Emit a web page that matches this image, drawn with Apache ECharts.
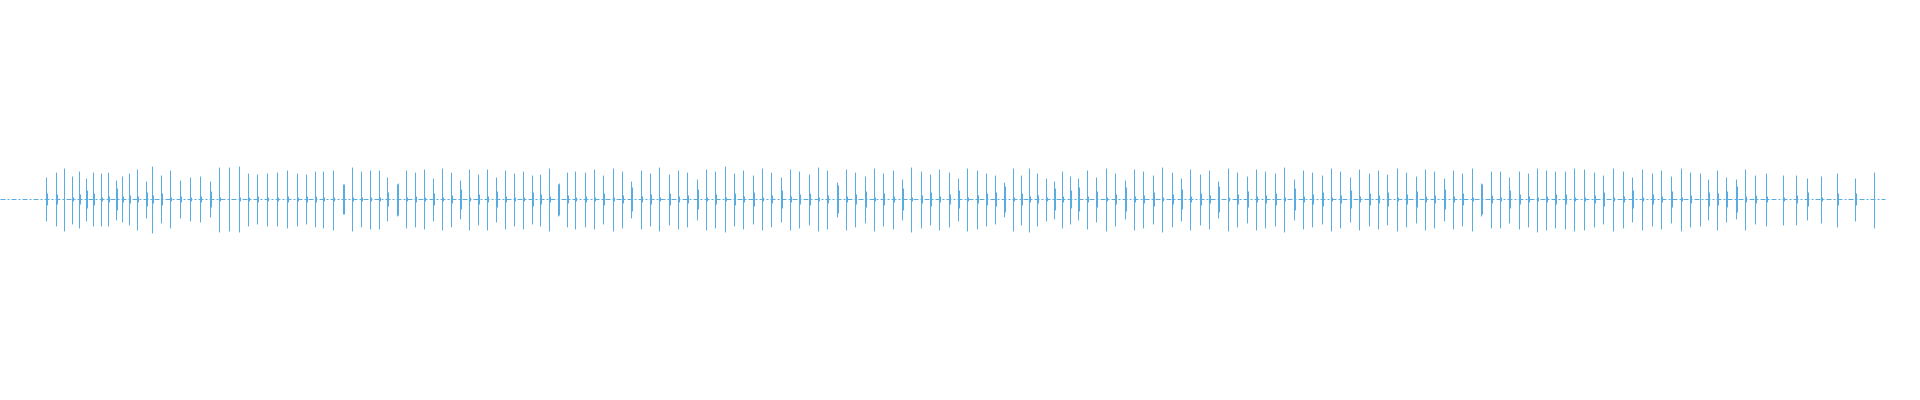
<!DOCTYPE html>
<html><head><meta charset="utf-8">
<script src="https://cdn.jsdelivr.net/npm/echarts@6/dist/echarts.min.js"></script>
<style>html,body{margin:0;padding:0;background:#fff}#c{width:1920px;height:400px}</style>
</head><body><div id="c"></div>
<script>
// Time of each pulse (sample index), upward / downward peak amplitude, and small central burst
const spikeTime = [
46,56,64,72,79,86,93,101,108,116,122,129,137,146,152,161,170,180,190,200,210,219,229,239,248,257,267,277,287,297,306,315,323,333,343,352,361,370,379,387,397,
406,415,424,433,442,451,460,469,478,487,496,
505,514,523,532,540,549,558,567,575,
585,594,603,613,622,631,641,650,659,669,678,687,697,706,715,725,734,743,753,762,771,781,790,799,809,818,827,837,846,855,865,874,883,893,902,911,921,930,939,949,958,967,977,986,995,
1004,1013,1021,1029,1037,1046,1054,1062,1070,1078,
1087,1096,1106,1115,1125,1134,1143,1153,1162,1172,1181,1190,1200,1209,1218,1228,1237,1247,1256,1265,1275,1284,1294,1303,1312,1322,1331,1340,1350,1359,1369,1378,1387,1397,1406,1416,1425,1434,1444,1453,1462,1472,1481,1491,
1500,1509,1519,1528,1537,1546,1555,1565,1574,
1584,1594,1603,1613,1623,1632,1642,1652,1661,1671,1681,1690,
1700,1708,1717,1726,1736,1745,1755,1766,1783,1796,1807,1821,1837,1855,1874
];
const spikeUp = [
.22,.27,.31,.23,.28,.21,.27,.26,.27,.19,.23,.26,.30,.18,.33,.24,.29,.19,.22,.23,.18,.32,.32,.33,.26,.25,.26,.27,.29,.26,.25,.28,.28,.29,.15,.32,.28,.29,.29,.22,.15,
.29,.27,.30,.21,.31,.27,.19,.30,.25,.30,.22,
.29,.26,.28,.24,.25,.31,.15,.27,.28,
.27,.30,.24,.31,.28,.18,.29,.26,.32,.25,.29,.27,.20,.30,.28,.33,.26,.29,.24,.31,.27,.22,.30,.28,.25,.32,.29,.17,.30,.27,.23,.31,.26,.29,.20,.32,.28,.25,.30,.27,.21,.31,.29,.26,.24,
.17,.31,.24,.31,.26,.21,.18,.28,.23,.21,
.29,.22,.31,.26,.19,.30,.28,.24,.32,.27,.21,.30,.25,.29,.18,.31,.27,.23,.30,.28,.26,.32,.20,.29,.27,.24,.31,.28,.22,.30,.26,.29,.25,.31,.27,.23,.30,.28,.21,.29,.26,.31,.16,.28,
.28,.22,.28,.26,.31,.29,.28,.28,.31,
.30,.27,.24,.31,.28,.22,.30,.26,.29,.23,.31,.27,
.26,.20,.29,.22,.20,.30,.24,.26,.24,.24,.21,.23,.26,.21,.27
];
const spikeDown = [
.22,.27,.32,.25,.29,.22,.27,.27,.27,.21,.23,.26,.31,.19,.34,.24,.29,.19,.22,.23,.18,.33,.32,.33,.27,.25,.27,.27,.29,.27,.25,.28,.29,.31,.15,.32,.28,.30,.30,.22,.17,
.29,.28,.30,.22,.31,.28,.20,.31,.26,.31,.23,
.30,.27,.30,.25,.27,.32,.17,.28,.30,
.28,.30,.25,.32,.29,.19,.30,.27,.32,.26,.30,.28,.21,.31,.29,.33,.27,.30,.25,.31,.28,.23,.31,.29,.26,.32,.30,.18,.31,.28,.24,.32,.27,.30,.21,.33,.29,.26,.31,.28,.22,.32,.30,.27,.25,
.18,.32,.26,.33,.27,.22,.20,.29,.25,.21,
.30,.23,.32,.27,.20,.31,.29,.25,.33,.28,.22,.31,.26,.30,.19,.32,.28,.24,.31,.29,.27,.33,.21,.30,.28,.25,.32,.29,.23,.31,.27,.30,.26,.32,.28,.24,.31,.29,.22,.30,.27,.32,.17,.29,
.29,.24,.30,.28,.33,.31,.29,.30,.32,
.31,.28,.25,.32,.29,.23,.31,.27,.30,.24,.32,.28,
.27,.21,.31,.23,.20,.31,.25,.27,.26,.26,.21,.24,.28,.22,.29
];
const spikeBurst = [
.06,.05,0,.02,.05,.09,.06,.02,.03,.11,.03,.04,.03,.07,.04,.06,.02,.03,.02,.03,.08,.02,0,.02,.02,.03,.02,.02,.03,.02,.03,.03,.02,.02,.15,.02,.02,.02,.02,.07,.16,
.02,.03,.02,.06,.02,.04,.10,.02,.05,.03,.08,
.03,.02,.02,.07,.05,.03,.16,.04,.02,
.03,.02,.06,.02,.04,.12,.03,.05,.02,.06,.03,.04,.10,.02,.05,.02,.06,.03,.07,.02,.04,.09,.03,.05,.06,.02,.04,.14,.03,.05,.08,.02,.06,.03,.11,.02,.04,.07,.03,.05,.09,.02,.04,.06,.07,
.13,.02,.06,.03,.04,.02,.11,.03,.09,.12,
.03,.08,.02,.05,.12,.03,.04,.07,.02,.05,.10,.03,.06,.04,.13,.02,.05,.08,.03,.04,.06,.02,.11,.03,.05,.07,.02,.04,.09,.03,.06,.04,.07,.02,.05,.08,.03,.04,.10,.03,.06,.02,.15,.04,
.02,.09,.05,.03,.02,.03,.05,.05,.02,
.02,.04,.07,.02,.03,.09,.02,.05,.03,.08,.02,.04,
0,.07,.06,.08,.13,.03,.04,.03,.02,.04,.07,.02,.06,.06,0
];
const signalStart = 0, signalEnd = 1885;

// pulses: each one a separate vertical stroke (null breaks the line between them)
const pulses = [];
for (let i = 0; i < spikeTime.length; i++) {
  const t = spikeTime[i];
  pulses.push([t, spikeUp[i]], [t, -spikeDown[i]], [t, null]);
  const b = spikeBurst[i];
  if (b > 0) pulses.push([t + 1, b], [t + 1, -b], [t + 1, null]);
}
const baseline = [[signalStart, 0], [signalEnd, 0]];

const chart = echarts.init(document.getElementById('c'), null, {renderer: 'canvas'});
chart.setOption({
  animation: false,
  backgroundColor: '#ffffff',
  grid: {left: 0, right: 34, top: 0, bottom: 1},
  xAxis: {type: 'value', min: -0.5, max: 1885.5, show: false, splitLine: {show: false}},
  yAxis: {type: 'value', min: -2, max: 2, show: false, splitLine: {show: false}},
  series: [{
    type: 'line',
    data: baseline,
    showSymbol: false,
    symbol: 'none',
    lineStyle: {color: '#58ace2', width: 1, type: [5, 2, 2, 2]},
    emphasis: {disabled: true}
  }, {
    type: 'line',
    data: pulses,
    showSymbol: false,
    symbol: 'none',
    sampling: null,
    connectNulls: false,
    lineStyle: {color: '#58ace2', width: 1},
    emphasis: {disabled: true}
  }]
});
</script></body></html>
